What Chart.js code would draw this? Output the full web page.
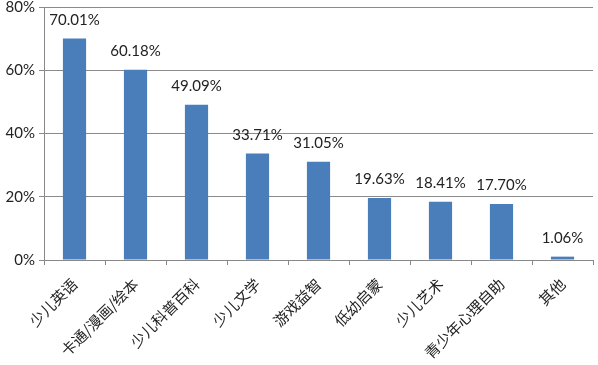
<!DOCTYPE html>
<html>
<head>
<meta charset="utf-8">
<script src="https://cdn.jsdelivr.net/npm/chart.js@4"></script>
<style>
  html, body { margin: 0; padding: 0; background: #fff; }
  #wrap { width: 598px; height: 365px; }
</style>
</head>
<body>
<div id="wrap"><canvas id="myChart" width="598" height="365"></canvas></div>
<script>
const categories = ['少儿英语', '卡通/漫画/绘本', '少儿科普百科', '少儿文学', '游戏益智', '低幼启蒙', '少儿艺术', '青少年心理自助', '其他'];
const shares = [70.01, 60.18, 49.09, 33.71, 31.05, 19.63, 18.41, 17.70, 1.06];
const yTicks = [0, 20, 40, 60, 80];

// value labels above each bar
const valueLabels = {
    id: 'valueLabels',
    afterDatasetsDraw(chart) {
        const ctx = chart.ctx;
        const meta = chart.getDatasetMeta(0);
        ctx.save();
        ctx.font = '15px Lato, "Liberation Sans", sans-serif';
        ctx.fillStyle = '#222';
        ctx.textAlign = 'center';
        ctx.textBaseline = 'bottom';
        meta.data.forEach((bar, i) => {
            ctx.fillText(shares[i].toFixed(2) + '%', bar.x, bar.y - 11);
        });
        ctx.restore();
    }
};

new Chart(document.getElementById('myChart'), {
    type: 'bar',
    data: {
        labels: categories,
        datasets: [{
            data: shares,
            backgroundColor: '#4A7EBB',
            borderWidth: 0,
            barPercentage: 0.38,
            categoryPercentage: 1
        }]
    },
    options: {
        responsive: false,
        animation: false,
        layout: { padding: { top: 7, right: 5, left: 0, bottom: 0 } },
        plugins: {
            legend: { display: false },
            tooltip: { enabled: false }
        },
        scales: {
            x: {
                grid: {
                    display: true,
                    drawOnChartArea: false,
                    drawTicks: true,
                    tickLength: 5,
                    offset: true,
                    color: '#888'
                },
                border: { color: '#888' },
                ticks: {
                    color: '#222',
                    font: { family: '"Noto Sans CJK SC"', size: 15 },
                    minRotation: 45,
                    maxRotation: 45,
                    padding: 10
                },
                afterFit(scale) { scale.height = 105; }
            },
            y: {
                min: 0,
                max: 80,
                afterBuildTicks(scale) {
                    scale.ticks = yTicks.map(v => ({ value: v }));
                },
                grid: {
                    color: '#8a8a8a',
                    tickLength: 5,
                    drawTicks: true
                },
                border: { color: '#888' },
                ticks: {
                    color: '#222',
                    font: { family: 'Lato, "Liberation Sans", sans-serif', size: 15 },
                    padding: 4,
                    callback: v => v + '%'
                },
                afterFit(scale) {
                    scale.width = 44;
                    scale.paddingTop = 0;
                }
            }
        }
    },
    plugins: [valueLabels]
});
</script>
</body>
</html>
